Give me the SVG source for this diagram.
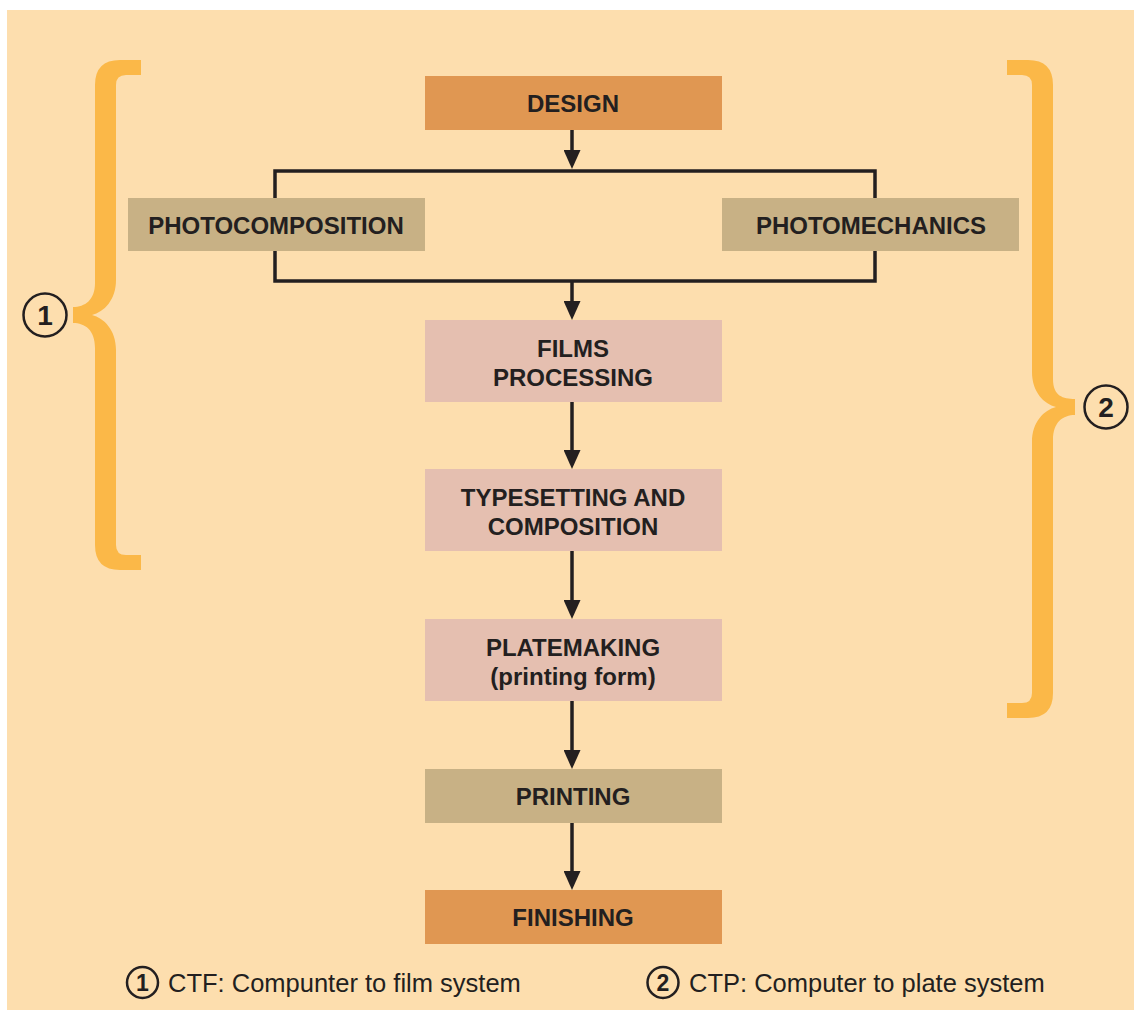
<svg xmlns="http://www.w3.org/2000/svg" width="1134" height="1010" viewBox="0 0 1134 1010">
<defs>
<style>
.bg{fill:#FDDEAE}
.brace{fill:#FBB848}
.orange{fill:#E09752}
.tan{fill:#C8B185}
.pink{fill:#E5BFB0}
.lbl{font-family:"Liberation Sans",Arial,sans-serif;font-weight:bold;font-size:24px;fill:#231F20;text-anchor:middle}
.leg{font-family:"Liberation Sans",Arial,sans-serif;font-size:25.5px;fill:#231F20}
.num{font-family:"Liberation Sans",Arial,sans-serif;font-weight:bold;fill:#231F20;text-anchor:middle}
.ring{fill:none;stroke:#231F20;stroke-width:2.5}
.conn{fill:none;stroke:#231F20;stroke-width:3.5}
</style>
<marker id="ah" viewBox="0 0 19 17" refX="11" refY="8.5" markerWidth="19" markerHeight="17" markerUnits="userSpaceOnUse" orient="auto">
<path d="M0,0 L19,8.5 L0,17 Z" fill="#231F20"/>
</marker>
</defs>
<rect x="0" y="0" width="1134" height="1010" fill="#FFFFFF"/>
<rect class="bg" x="7" y="10" width="1127" height="1000"/>

<g id="brace1">
<path class="brace" d="M141,60 L120,60 Q95,60 95,85 L95,283 C95,300 85,307 73,307 L73,323 C85,323 95,330 95,348 L95,545 Q95,570 120,570 L141,570 L141,555 L126,555 Q116,555 116,545 L116,350 C116,330 104,318 92,315 C104,312 116,300 116,280 L116,85 Q116,75 126,75 L141,75 Z"/>
<circle class="ring" cx="45" cy="315" r="21.5"/>
<text class="num" x="45" y="325" font-size="28">1</text>
</g>

<g id="brace2">
<path class="brace" d="M1007,60 L1028,60 Q1053,60 1053,85 L1053,379 C1053,396 1063,399 1075,399 L1075,415 C1063,415 1053,422 1053,440 L1053,693 Q1053,718 1028,718 L1007,718 L1007,703 L1022,703 Q1032,703 1032,693 L1032,442 C1032,422 1044,410 1056,407 C1044,404 1032,392 1032,372 L1032,85 Q1032,75 1022,75 L1007,75 Z"/>
<circle class="ring" cx="1106" cy="407" r="21.5"/>
<text class="num" x="1106" y="417" font-size="28">2</text>
</g>

<g id="connectors">
<line class="conn" x1="572" y1="130" x2="572" y2="161" marker-end="url(#ah)"/>
<path class="conn" d="M275,281 L275,171 L875,171 L875,281 Z"/>
<line class="conn" x1="572" y1="281" x2="572" y2="312" marker-end="url(#ah)"/>
<line class="conn" x1="572" y1="402" x2="572" y2="461" marker-end="url(#ah)"/>
<line class="conn" x1="572" y1="551" x2="572" y2="611" marker-end="url(#ah)"/>
<line class="conn" x1="572" y1="701" x2="572" y2="761" marker-end="url(#ah)"/>
<line class="conn" x1="572" y1="823" x2="572" y2="882" marker-end="url(#ah)"/>
</g>

<g id="design">
<rect class="orange" x="425" y="76" width="297" height="54"/>
<text class="lbl" x="573" y="112">DESIGN</text>
</g>
<g id="photocomposition">
<rect class="tan" x="128" y="198" width="297" height="53"/>
<text class="lbl" x="276" y="234">PHOTOCOMPOSITION</text>
</g>
<g id="photomechanics">
<rect class="tan" x="722" y="198" width="297" height="53"/>
<text class="lbl" x="871" y="234">PHOTOMECHANICS</text>
</g>
<g id="films">
<rect class="pink" x="425" y="320" width="297" height="82"/>
<text class="lbl" x="573" y="357">FILMS</text>
<text class="lbl" x="573" y="386">PROCESSING</text>
</g>
<g id="typesetting">
<rect class="pink" x="425" y="469" width="297" height="82"/>
<text class="lbl" x="573" y="506">TYPESETTING AND</text>
<text class="lbl" x="573" y="535">COMPOSITION</text>
</g>
<g id="platemaking">
<rect class="pink" x="425" y="619" width="297" height="82"/>
<text class="lbl" x="573" y="656">PLATEMAKING</text>
<text class="lbl" x="573" y="685">(printing form)</text>
</g>
<g id="printing">
<rect class="tan" x="425" y="769" width="297" height="54"/>
<text class="lbl" x="573" y="805">PRINTING</text>
</g>
<g id="finishing">
<rect class="orange" x="425" y="890" width="297" height="54"/>
<text class="lbl" x="573" y="926">FINISHING</text>
</g>

<g id="legend">
<circle class="ring" cx="142.5" cy="982.5" r="15.5"/>
<text class="num" x="142.5" y="991" font-size="23">1</text>
<text class="leg" x="168" y="992">CTF: Compunter to film system</text>
<circle class="ring" cx="663" cy="982.5" r="15.5"/>
<text class="num" x="663" y="991" font-size="23">2</text>
<text class="leg" x="689" y="992">CTP: Computer to plate system</text>
</g>
</svg>
